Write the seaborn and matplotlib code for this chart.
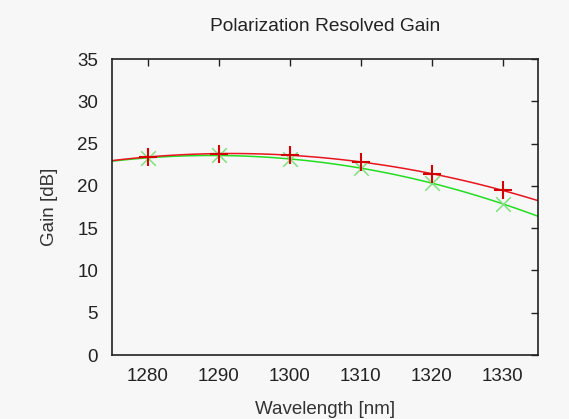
import numpy as np
import pandas as pd
import matplotlib
matplotlib.use('Agg')
import matplotlib.pyplot as plt
import seaborn as sns

# Данные
wavelength = [1280, 1290, 1300, 1310, 1320, 1330]
gain_te = [23.4, 23.8, 23.7, 22.8, 21.4, 19.5]
gain_tm = [23.3, 23.6, 23.2, 22.1, 20.3, 17.9]

sns.set_theme(style='white')
plt.rcParams['font.family'] = ['Liberation Sans', 'DejaVu Sans']

bg = '#f7f7f7'
fig, ax = plt.subplots(figsize=(5.69, 4.19), dpi=100)
fig.patch.set_facecolor(bg)
ax.set_facecolor(bg)
fig.subplots_adjust(left=112/569, right=538/569, top=1-59/419, bottom=1-355/419)

ax.set_xlim(1275, 1335)
ax.set_ylim(0, 35)

df = pd.DataFrame({'wl': wavelength, 'te': gain_te, 'tm': gain_tm})

# Квадратичная аппроксимация через regplot
sns.regplot(data=df, x='wl', y='tm', order=2, ci=None, truncate=False,
            scatter=False, ax=ax, line_kws=dict(color='#22dd22', lw=1.1))
sns.regplot(data=df, x='wl', y='te', order=2, ci=None, truncate=False,
            scatter=False, ax=ax, line_kws=dict(color='#e8141e', lw=1.1))

ax.scatter(df['wl'], df['tm'], marker='x', s=110, color='#7fe07f', lw=1.1, zorder=3)
ax.scatter(df['wl'], df['te'], marker='+', s=170, color='#d40000', lw=1.5, zorder=4)

ax.set_xlim(1275, 1335)
ax.set_ylim(0, 35)
ax.set_xticks(wavelength)
ax.set_yticks(np.arange(0, 36, 5))

ax.tick_params(direction='in', length=5, width=1, top=True, right=True,
               labelsize=13.5, colors='#222222')
ax.tick_params(axis='x', pad=9)
ax.tick_params(axis='y', pad=10)
for s in ax.spines.values():
    s.set_color('#222222')
    s.set_linewidth(1.2)

ax.set_xlabel('Wavelength [nm]', fontsize=13.5, color='#333333', labelpad=12)
ax.set_ylabel('Gain [dB]', fontsize=13.5, color='#333333', labelpad=14)
ax.set_title('Polarization Resolved Gain', fontsize=13.8, color='#222222', pad=20)

fig.savefig('out.png', dpi=100, facecolor=bg)
